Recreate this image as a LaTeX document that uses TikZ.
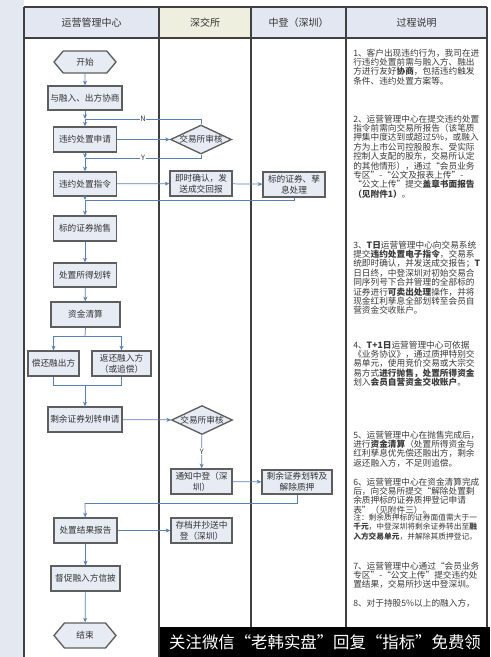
\documentclass[tikz,border=0pt]{standalone}
\usepackage{fontspec}
\setmainfont{Noto Sans CJK SC}
\usetikzlibrary{shapes.geometric,shapes.symbols,arrows.meta}
\newdimen\pxu \pxu=0.75pt
\definecolor{boxfill}{HTML}{E6EBF4}
\definecolor{boxline}{HTML}{5E5E5E}
\definecolor{connc}{HTML}{5A80B8}
\definecolor{hdrblue}{HTML}{E2E7F1}
\definecolor{hdrbeige}{HTML}{EEEFDF}
\definecolor{stripc}{HTML}{E4E8F0}
\definecolor{gridc}{HTML}{404040}
\definecolor{txt}{HTML}{333333}
\definecolor{desc}{HTML}{3A3A3A}
\begin{document}
\begin{tikzpicture}[x=0.75pt,y=-0.75pt,
  flowbox/.style={draw=boxline, fill=boxfill, line width=1pt, inner sep=1pt, align=center,
    font=\fontsize{6.5pt}{8pt}\selectfont, text=txt},
  rbox/.style={flowbox, rectangle},
  hexa/.style={flowbox, signal, signal to=east and west, signal pointer angle=100},
  decision/.style={flowbox, diamond, aspect=2.1, inner sep=0pt},
  conn/.style={draw=connc, line width=0.55pt},
  arr/.style={conn, -{Stealth[length=3.5pt,width=3pt]}},
  yn/.style={fill=white, inner sep=0.6pt, font=\fontsize{5.5pt}{6pt}\selectfont, text=txt},
  hdr/.style={font=\fontsize{7.5pt}{9pt}\selectfont, text=txt},
  para/.style={anchor=north west, inner sep=0pt, align=left, text=desc,
    font=\fontsize{6.5pt}{7.05pt}\selectfont},
  notep/.style={anchor=north west, inner sep=0pt, align=left, text=desc,
    font=\fontsize{5.8pt}{7.1pt}\selectfont},
]
\useasboundingbox (0,0) rectangle (490,657);
% background
\fill[white] (0,0) rectangle (490,657);
\fill[stripc] (0,0) rectangle (24,657);
% header
\fill[hdrblue] (24,7) rectangle (159,38);
\fill[hdrbeige] (159,7) rectangle (251,38);
\fill[hdrblue] (251,7) rectangle (346,38);
\fill[hdrblue] (346,7) rectangle (487,38);
\node[hdr] (h1) at (91.5,22.5) {运营管理中心};
\node[hdr] (h2) at (205,22.5) {深交所};
\node[hdr] (h3) at (298.5,22.5) {中登（深圳）};
\node[hdr] (h4) at (416.5,22.5) {过程说明};
% grid
\draw[gridc, line width=0.9pt] (24,7) -- (487,7);
\draw[gridc, line width=0.9pt] (24,38) -- (487,38);
\draw[gridc, line width=1.1pt] (24,7) -- (24,657);
\draw[gridc, line width=0.8pt] (159,7) -- (159,657);
\draw[gridc, line width=0.8pt] (251,7) -- (251,657);
\draw[gridc, line width=1.1pt] (346,7) -- (346,657);
\draw[gridc, line width=0.8pt] (487,7) -- (487,657);

% nodes
\node[hexa, minimum width=62\pxu, minimum height=22\pxu] (start) at (85,62) {开始};
\node[rbox, minimum width=74\pxu, minimum height=24\pxu] (b1) at (85,98) {与融入、出方协商};
\node[rbox, minimum width=63\pxu, minimum height=25\pxu] (b2) at (85,139.5) {违约处置申请};
\node[decision, minimum width=61\pxu, minimum height=29\pxu] (d1) at (201,139.5) {交易所审核};
\node[rbox, minimum width=63\pxu, minimum height=24\pxu] (b3) at (85,184) {违约处置指令};
\node[rbox, minimum width=62\pxu, minimum height=25\pxu] (e1) at (201,183.5) {即时确认，发\\送成交回报};
\node[rbox, minimum width=62\pxu, minimum height=25\pxu] (f1) at (294,184.5) {标的证券、孳\\息处理};
\node[rbox, minimum width=63\pxu, minimum height=25\pxu] (b4) at (85,228.5) {标的证券抛售};
\node[rbox, minimum width=63\pxu, minimum height=24\pxu] (b5) at (85,275) {处置所得划转};
\node[rbox, minimum width=69\pxu, minimum height=25\pxu] (b6) at (85.5,314.5) {资金清算};
\node[rbox, minimum width=51\pxu, minimum height=25\pxu] (b7) at (53.5,363.5) {偿还融出方};
\node[rbox, minimum width=59\pxu, minimum height=25\pxu] (b8) at (121.5,363.5) {返还融入方\\（或追偿）};
\node[rbox, minimum width=74\pxu, minimum height=25\pxu] (b9) at (85,419.5) {剩余证券划转申请};
\node[decision, minimum width=61\pxu, minimum height=29\pxu] (d2) at (202,420) {交易所审核};
\node[rbox, minimum width=61\pxu, minimum height=25\pxu] (e2) at (201.5,481.5) {通知中登（深\\圳）};
\node[rbox, minimum width=70\pxu, minimum height=24\pxu] (f2) at (297,482) {剩余证券划转及\\解除质押};
\node[rbox, minimum width=63\pxu, minimum height=25\pxu] (b10) at (85.5,530.5) {处置结果报告};
\node[rbox, minimum width=61\pxu, minimum height=25\pxu] (e3) at (201.5,530.5) {存档并抄送中\\登（深圳）};
\node[rbox, minimum width=69\pxu, minimum height=25\pxu] (b11) at (85.5,578.5) {督促融入方信披};
\node[hexa, minimum width=62\pxu, minimum height=25\pxu] (end) at (85,635.5) {结束};

% junctions
\coordinate (j1) at (85,119);
\coordinate (j2) at (85,158);
\coordinate (j3) at (85,200);
\coordinate (s1) at (85,336);
\coordinate (m1) at (85,385);
\coordinate (j4) at (85,503);

% connectors
\draw[arr] (start) -- (b1);
\draw[arr] (b1) -- (j1);
\draw[arr] (j1) -- (b2);
\draw[conn] (d1.north) |- (j1);
\node[yn] (ln) at (143,119) {N};
\draw[arr] (b2) -- (d1);
\draw[arr] (b2) -- (j2);
\draw[arr] (j2) -- (b3);
\draw[conn] (d1.south) |- (j2);
\node[yn] (ly) at (143,158) {Y};
\draw[arr] (b3) -- (e1);
\draw[arr] (e1) -- (f1);
\draw[conn] (f1.south) |- (j3);
\draw[arr] (b3) -- (j3);
\draw[arr] (j3) -- (b4);
\draw[arr] (b4) -- (b5);
\draw[arr] (b5) -- (b6);
\draw[conn] (b6.south) -- (s1);
\draw[arr] (s1) -| (b7.north);
\draw[arr] (s1) -| (b8.north);
\draw[conn] (b7.south) |- (m1);
\draw[conn] (b8.south) |- (m1);
\draw[arr] (m1) -- (b9);
\draw[arr] (b9) -- (d2);
\draw[arr] (d2) -- node[yn, pos=0.5] (ly2) {Y} (e2);
\draw[arr] (e2) -- (f2);
\draw[conn] (f2.south) |- (j4);
\draw[arr] (j4) -- (b10);
\draw[arr] (b10) -- (e3);
\draw[arr] (b10) -- (b11);
\draw[arr] (b11) -- (end);

% description column
\node[para] (p1) at (353,48.5) {1、客户出现违约行为，我司在进\\行违约处置前需与融入方、融出\\方进行友好\textbf{协商}，包括违约触发\\条件、违约处置方案等。};
\node[para] (p2) at (353,114.5) {2、运营管理中心在提交违约处置\\指令前需向交易所报告（该笔质\\押集中度达到或超过5\%，或融入\\方为上市公司控股股东、受实际\\控制人支配的股东，交易所认定\\的其他情形），通过“会员业务\\专区”-“公文及报表上传”-\\“公文上传”提交\textbf{盖章书面报告}\\\textbf{（见附件1）}。};
\node[para] (p3) at (353,240.5) {3、\textbf{T日}运营管理中心向交易系统\\提交\textbf{违约处置电子指令}，交易系\\统即时确认，并发送成交报告；\textbf{T}\\日日终，中登深圳对初始交易合\\同序列号下合并管理的全部标的\\证券进行\textbf{可卖出处理}操作，并将\\现金红利孳息全部划转至会员自\\营资金交收账户。};
\node[para] (p4) at (353,340.5) {4、\textbf{T+1日}运营管理中心可依据\\《业务协议》，通过质押特别交\\易单元，使用竞价交易或大宗交\\易方式\textbf{进行抛售，处置所得资金}\\划入\textbf{会员自营资金交收账户}。};
\node[para] (p5) at (353,430.5) {5、运营管理中心在抛售完成后，\\进行\textbf{资金清算}（处置所得资金与\\红利孳息优先偿还融出方，剩余\\返还融入方，不足则追偿。};
\node[para] (p6) at (353,477.5) {6、运营管理中心在资金清算完成\\后，向交易所提交“解除处置剩\\余质押标的证券质押登记申请\\表”（见附件三）。};
\node[notep] (p6n) at (353,513.5) {注：剩余质押标的证券面值需大于一\\\textbf{千元}，中登深圳将剩余证券转出至\textbf{融}\\\textbf{入方交易单元}，并解除其质押登记。};
\node[para] (p7) at (353,561.5) {7、运营管理中心通过“会员业务\\专区”-“公文上传”提交违约处\\置结果，交易所抄送中登深圳。};
\node[para] (p8) at (353,598.5) {8、对于持股5\%以上的融入方，};

% banner
\fill[black] (160,627) rectangle (490,657);
\node[text=white, font=\fontsize{12.3pt}{15pt}\selectfont, inner sep=0pt] (ban) at (325,642) {关注微信“老韩实盘”回复“指标”免费领};
\end{tikzpicture}
\end{document}
